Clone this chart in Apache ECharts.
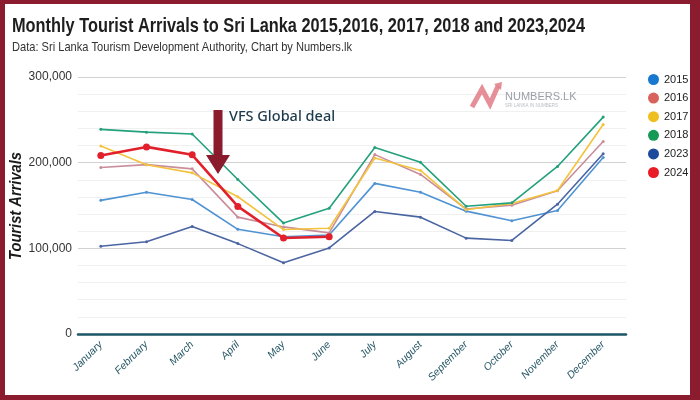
<!DOCTYPE html>
<html><head><meta charset="utf-8">
<script src="https://cdn.jsdelivr.net/npm/echarts@6/dist/echarts.min.js"></script>
<style>html,body{margin:0;padding:0;background:#fff}#c{width:700px;height:400px}</style>
</head><body><div id="c"></div>
<script>
var months = ['January','February','March','April','May','June','July','August','September','October','November','December'];
var y2015 = [156000,165500,157000,122200,113500,115500,175800,165500,143400,132300,144100,206100];
var y2016 = [194300,197700,192800,136400,125000,118000,209400,186300,145900,150400,167200,224800];
var y2017 = [219400,197500,188100,160200,121900,123400,205500,190900,145100,152400,167500,244500];
var y2018 = [238900,235600,233400,180400,129500,146800,217800,200400,149100,153100,195600,253200];
var y2023 = [102500,107600,125500,105500,83300,100400,143000,136400,111900,109200,151500,210400];
var y2024 = [208300,218400,209200,148900,112100,113500];
var yTicks = [0,100000,200000,300000];

var SANS = "'Liberation Sans',Arial,sans-serif";
var lineCols = {'2015':'#4f93d3','2016':'#c98e9a','2017':'#f3c33e','2018':'#23a07c','2023':'#4b65a2','2024':'#e2202c'};
var legCols = {'2015':'#1778cf','2016':'#d8625c','2017':'#efbf1f','2018':'#159a55','2023':'#1e4a9c','2024':'#e81b27'};
var dataMap = {'2015':y2015,'2016':y2016,'2017':y2017,'2018':y2018,'2023':y2023,'2024':y2024};
var names = ['2015','2016','2017','2018','2023','2024'];

// measure text to compress it horizontally (condensed look)
var mctx = document.createElement('canvas').getContext('2d');
function fitScale(text, font, target){ mctx.font = font; return target / mctx.measureText(text).width; }

var titleText = 'Monthly Tourist Arrivals to Sri Lanka 2015,2016, 2017, 2018 and 2023,2024';
var subText = 'Data: Sri Lanka Tourism Development Authority, Chart by Numbers.lk';
var yName = 'Tourist Arrivals';
var titleScale = fitScale(titleText, 'bold 21px ' + SANS, 573);
var subScale = fitScale(subText, '13px ' + SANS, 340);
var yNameScale = fitScale(yName, 'italic bold 17px ' + SANS, 108);

var series = names.map(function(n){
  var big = n === '2024';
  return {
    name:n, type:'line', data:dataMap[n], symbol:'circle',
    symbolSize: big ? 7 : 3, showSymbol:true,
    lineStyle:{color:lineCols[n], width: big ? 2.6 : 1.6},
    itemStyle:{color:lineCols[n]},
    z: big ? 10 : 2, animation:false
  };
});

var chart = echarts.init(document.getElementById('c'), null, {renderer:'canvas'});
chart.setOption({
  backgroundColor:'#fff',
  animation:false,
  legend:{
    orient:'vertical', left:643, top:69, itemWidth:11, itemHeight:11, itemGap:7.6, icon:'circle',
    textStyle:{fontFamily:SANS, fontSize:11, lineHeight:11, color:'#222'},
    data:names.map(function(n){return {name:n, itemStyle:{color:legCols[n]}};})
  },
  grid:{left:78, right:74, top:77, bottom:66, containLabel:false, outerBoundsMode:'none'},
  xAxis:{
    type:'category', data:months, boundaryGap:true,
    axisLine:{lineStyle:{color:'#1d5664', width:2.5}},
    axisTick:{show:false},
    axisLabel:{rotate:45, margin:9, fontSize:10.5, fontStyle:'italic', color:'#285866', fontFamily:SANS, interval:0},
    splitLine:{show:false}
  },
  yAxis:{
    type:'value', min:yTicks[0], max:yTicks[yTicks.length-1], interval:100000,
    axisLine:{show:false}, axisTick:{show:false},
    axisLabel:{fontFamily:SANS, fontSize:12, color:'#333', margin:6,
      formatter:function(v){return v.toLocaleString('en-US');}},
    splitLine:{lineStyle:{color:'#d2d2d2', width:1}},
    minorTick:{show:false, splitNumber:5},
    minorSplitLine:{show:true, lineStyle:{color:'#f0f0f0', width:1}}
  },
  graphic:[
    {type:'text', x:12, y:16, scaleX:titleScale, style:{text:titleText, font:'bold 21px ' + SANS, fill:'#1e1e1e'}, z:20},
    {type:'text', x:12, y:41, scaleX:subScale, style:{text:subText, font:'13px ' + SANS, fill:'#333'}, z:20},
    {type:'text', x:16, y:206, rotation:Math.PI/2, scaleX:yNameScale,
     style:{text:yName, font:'italic bold 17px ' + SANS, fill:'#1a1a1a', align:'center', verticalAlign:'middle'}, z:20},
    {type:'polygon', shape:{points:[[213.5,110],[222.5,110],[222.5,155],[230,155],[218,174],[206,155],[213.5,155]]},
     style:{fill:'#8a1b2d'}, z:20},
    {type:'text', x:229, y:109, style:{text:'VFS Global deal', font:"500 14.5px 'Noto Sans','Open Sans',sans-serif", fill:'#1c3a4b'}, z:20},
    {type:'polyline', shape:{points:[[472,107],[482,89],[490,104],[498,86]]}, style:{stroke:'#e27b86', lineWidth:5, fill:null, opacity:0.85}, z:1},
    {type:'polygon', shape:{points:[[494,84],[502,82],[501,90]]}, style:{fill:'#e27b86', opacity:0.85}, z:1},
    {type:'text', x:505, y:91, style:{text:'NUMBERS.LK', font:"11px " + SANS, fill:'#9aa0a8'}, z:1},
    {type:'text', x:505, y:103, style:{text:'SRI LANKA IN NUMBERS', font:"4.5px " + SANS, fill:'#b8bcc2'}, z:1},
    {type:'rect', shape:{x:0,y:0,width:5,height:400}, style:{fill:'#8b1b2e'}, z:30},
    {type:'rect', shape:{x:0,y:0,width:700,height:4}, style:{fill:'#8b1b2e'}, z:30},
    {type:'rect', shape:{x:690,y:0,width:10,height:400}, style:{fill:'#8b1b2e'}, z:30},
    {type:'rect', shape:{x:0,y:395,width:700,height:5}, style:{fill:'#8b1b2e'}, z:30}
  ],
  series:series
});
</script></body></html>
